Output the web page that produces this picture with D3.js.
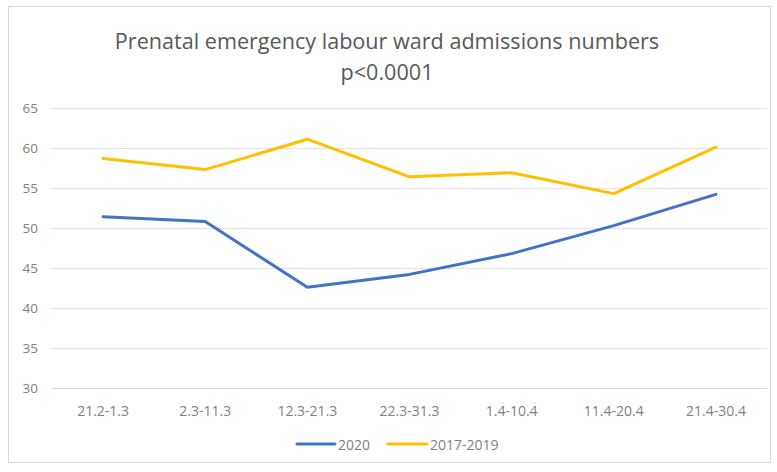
<!DOCTYPE html>
<html>
<head>
<meta charset="utf-8">
<script src="https://cdn.jsdelivr.net/npm/d3@7"></script>
<style>
  html, body { margin: 0; padding: 0; background: #fff; }
  svg { display: block; }
  text { font-family: "Open Sans", "Liberation Sans", sans-serif; }
</style>
</head>
<body>
<svg id="chart" width="777" height="472"></svg>
<script>
const categories = ["21.2-1.3", "2.3-11.3", "12.3-21.3", "22.3-31.3", "1.4-10.4", "11.4-20.4", "21.4-30.4"];
const series2020 = [51.4, 50.8, 42.6, 44.2, 46.8, 50.3, 54.2];
const series20172019 = [58.7, 57.3, 61.1, 56.4, 56.9, 54.3, 60.1];
const seriesNames = ["2020", "2017-2019"];
const yTicks = [30, 35, 40, 45, 50, 55, 60, 65];
const titleLines = ["Prenatal emergency labour ward admissions numbers", "p<0.0001"];

(function () {
const svg = d3.select("#chart");
const colors = ["#4472C4", "#FFC000"];

// chart border
svg.append("rect").attr("x", 8.5).attr("y", 6.5).attr("width", 762).attr("height", 456)
  .attr("fill", "#fff").attr("stroke", "#d9d9d9").attr("stroke-width", 1);

const pL = 52, pR = 767, pT = 108, pB = 388;
const x = d3.scaleBand().domain(categories).range([pL, pR]);
const y = d3.scaleLinear().domain([30, 65]).range([pB, pT]);

// title
svg.append("text").attr("x", 387).attr("y", 49).attr("text-anchor", "middle")
  .attr("font-size", 21.6).attr("fill", "#595959").text(titleLines[0]);
svg.append("text").attr("x", 387).attr("y", 80).attr("text-anchor", "middle")
  .attr("font-size", 21.6).attr("fill", "#595959").text(titleLines[1]);

// gridlines + y axis
const yAxis = d3.axisLeft(y).tickValues(yTicks).tickSize(-(pR - pL)).tickPadding(14);
const gy = svg.append("g").attr("transform", `translate(${pL},0)`).call(yAxis);
gy.select(".domain").remove();
gy.selectAll(".tick line").attr("stroke", "#e3e3e3").attr("stroke-width", 1);
gy.selectAll(".tick text").attr("fill", "#7f7f7f").attr("font-size", 13.5)
  .style("font-family", "'Open Sans', sans-serif");

// x axis
const xAxis = d3.axisBottom(x).tickSize(0).tickPadding(18);
const gx = svg.append("g").attr("transform", `translate(0,${pB})`).call(xAxis);
gx.select(".domain").attr("stroke", "#d9d9d9");
gx.selectAll(".tick text").attr("fill", "#7f7f7f").attr("font-size", 14)
  .style("font-family", "'Open Sans', sans-serif");

// lines
const line = d3.line().x((d, i) => x(categories[i]) + x.bandwidth() / 2).y(d => y(d));
[series2020, series20172019].forEach((s, k) => {
  svg.append("path").datum(s).attr("d", line).attr("fill", "none")
    .attr("stroke", colors[k]).attr("stroke-width", 3)
    .attr("stroke-linejoin", "round").attr("stroke-linecap", "round");
});

// legend
const legend = [
  { x1: 297, x2: 335, tx: 338 },
  { x1: 388, x2: 427, tx: 430 }
];
legend.forEach((l, k) => {
  svg.append("line").attr("x1", l.x1).attr("x2", l.x2).attr("y1", 444).attr("y2", 444)
    .attr("stroke", colors[k]).attr("stroke-width", 3).attr("stroke-linecap", "round");
  svg.append("text").attr("x", l.tx).attr("y", 449.5).attr("font-size", 14)
    .attr("fill", "#7f7f7f").text(seriesNames[k]);
});
})();
</script>
</body>
</html>
